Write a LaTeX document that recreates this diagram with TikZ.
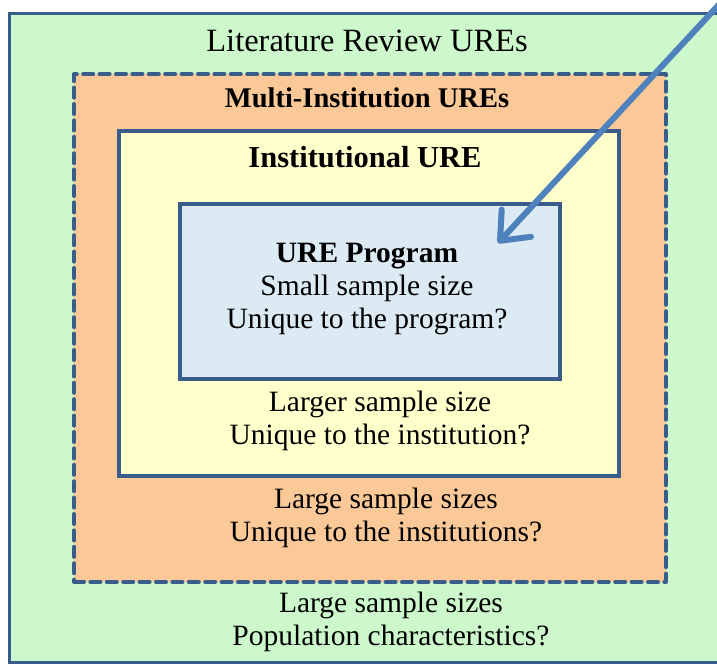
\documentclass[tikz,border=0pt]{standalone}
\usepackage{fontspec}
\setmainfont{Liberation Serif}
\usetikzlibrary{arrows.meta}
\definecolor{frameblue}{HTML}{385D8A}
\definecolor{arrowblue}{HTML}{4F81BD}
\definecolor{litgreen}{HTML}{CCF8CC}
\definecolor{multiorange}{HTML}{FBC897}
\definecolor{instyellow}{HTML}{FFFFCC}
\definecolor{progblue}{HTML}{DBEAF3}
\tikzset{
  layer/.style={draw=frameblue, line width=4pt, inner sep=0pt, anchor=north west},
  dashlayer/.style={layer, dash pattern=on 10pt off 6.4pt, line cap=round, line join=round},
  txt/.style={font=\fontsize{29.5}{33}\selectfont, inner sep=0pt, align=center},
  bigtxt/.style={font=\fontsize{32.5}{36}\selectfont, inner sep=0pt, align=center},
  boldtxt/.style={txt, font=\fontsize{29.5}{33}\selectfont\bfseries},
  pointer/.style={draw=arrowblue, line width=6pt, line cap=round,
    -{Straight Barb[length=24pt, width=40pt, line cap=round, line join=round]}}
}
\begin{document}
\begin{tikzpicture}[x=1pt, y=-1pt]
  \useasboundingbox (0,0) rectangle (717,665);
  \begin{scope}
  \clip (0,0) rectangle (717,665);
  \fill[white] (0,0) rectangle (717,665);
  % outer scope: open on the right, running past the page edge
  \coordinate (litnw) at (9,13);
  \coordinate (litse) at (730,662);
  \fill[litgreen] (litnw) rectangle (litse);
  \draw[frameblue, line width=3pt] (litse |- litnw) -- (litnw) -- (litnw |- litse) -- (litse);
  % nested scopes
  \node[dashlayer, fill=multiorange, minimum width=592pt, minimum height=508pt] (multi) at (72,72) {};
  \node[layer, fill=instyellow, minimum width=500pt, minimum height=345pt] (inst) at (117,129) {};
  \node[layer, fill=progblue, minimum width=380pt, minimum height=175pt] (prog) at (178,202) {};
  % labels
  \node[bigtxt] (littitle) at (367,41) {Literature Review UREs};
  \node[boldtxt, font=\fontsize{28.5}{33}\selectfont\bfseries] (multititle) at (367,98) {Multi-Institution UREs};
  \node[boldtxt, font=\fontsize{30.5}{33}\selectfont\bfseries] (insttitle) at (365,157) {Institutional URE};
  \node[txt] (progtext) at (367,289) {\textbf{URE Program}\\Small sample size\\Unique to the program?};
  \node[txt] (insttext) at (380,421) {Larger sample size\\Unique to the institution?};
  \node[txt] (multitext) at (386,518) {Large sample sizes\\Unique to the institutions?};
  \node[txt] (littext) at (391,622) {Large sample sizes\\Population characteristics?};
  % pointer into the program box
  \coordinate (from) at (726,-3);
  \coordinate (tip) at (498,243);
  \draw[pointer] (from) -- (tip);
  \end{scope}
\end{tikzpicture}
\end{document}
